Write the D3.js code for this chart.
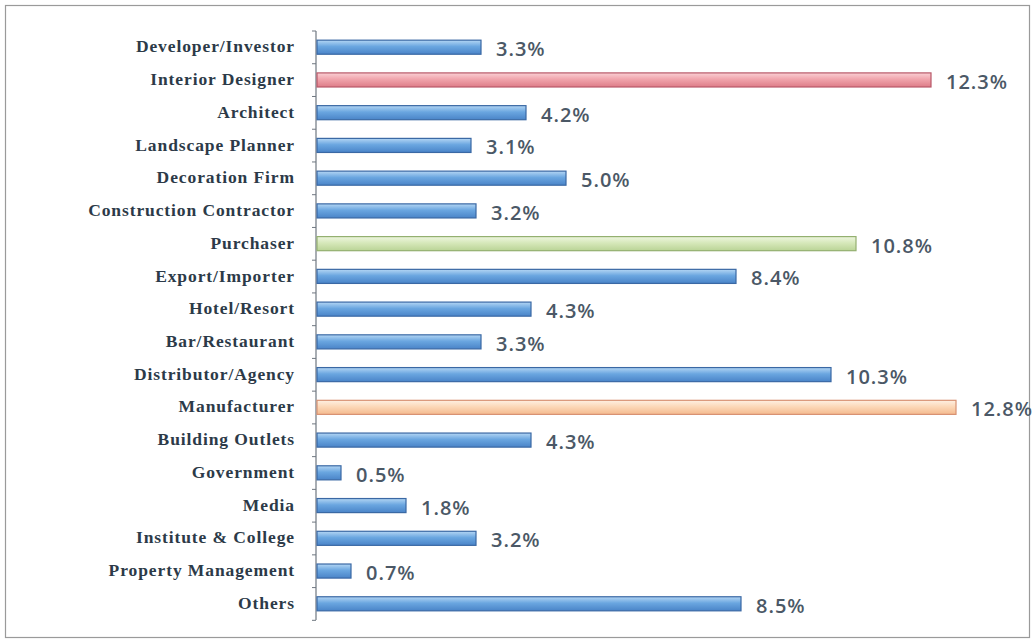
<!DOCTYPE html>
<html lang="en">
	<head>
		<meta charset="utf-8">
		<title>Visitors by Business</title>
		<script type="text/javascript" src="https://d3js.org/d3.v7.min.js"></script>
		<style type="text/css">
			body { margin: 0; background: #fff; }
		</style>
	</head>
	<body>
		<div id="chart"></div>
		<script type="text/javascript">

		// data
		var categories = ["Developer/Investor", "Interior Designer", "Architect", "Landscape Planner",
			"Decoration Firm", "Construction Contractor", "Purchaser", "Export/Importer", "Hotel/Resort",
			"Bar/Restaurant", "Distributor/Agency", "Manufacturer", "Building Outlets", "Government",
			"Media", "Institute & College", "Property Management", "Others"];
		var values = [3.3, 12.3, 4.2, 3.1, 5.0, 3.2, 10.8, 8.4, 4.3, 3.3, 10.3, 12.8, 4.3, 0.5, 1.8, 3.2, 0.7, 8.5];
		var highlights = { "Interior Designer": "red", "Purchaser": "green", "Manufacturer": "orange" };

		var w = 1034, h = 642;
		var plotLeft = 316, plotTop = 31, plotBottom = 620;

		// colour sets: top, middle, bottom, border
		var palette = {
			blue:   ["#b4d6f4", "#6aa6e0", "#4a84c8", "#3a68a4"],
			red:    ["#fad0d4", "#f0a4ac", "#de7c88", "#b85868"],
			green:  ["#eef6e0", "#d6e8ba", "#bad496", "#94b070"],
			orange: ["#fef0e2", "#fcd8b8", "#f4ba8e", "#d89272"]
		};

		var svg = d3.select("#chart").append("svg")
			.attr("width", w)
			.attr("height", h);

		// gradients for the bars
		var defs = svg.append("defs");
		Object.keys(palette).forEach(function(k) {
			var g = defs.append("linearGradient")
				.attr("id", "grad-" + k)
				.attr("x1", 0).attr("y1", 0).attr("x2", 0).attr("y2", 1);
			g.append("stop").attr("offset", "0%").attr("stop-color", palette[k][0]);
			g.append("stop").attr("offset", "45%").attr("stop-color", palette[k][1]);
			g.append("stop").attr("offset", "100%").attr("stop-color", palette[k][2]);
		});

		// outer frame
		svg.append("rect")
			.attr("x", 5.5).attr("y", 5.5)
			.attr("width", 1024).attr("height", 632)
			.attr("fill", "none")
			.attr("stroke", "#9a9a9a")
			.attr("stroke-width", 1.2);

		var x = d3.scaleLinear()
			.domain([0, 13.5])
			.range([plotLeft, plotLeft + 50 * 13.5]);

		var y = d3.scaleBand()
			.domain(categories)
			.range([plotTop, plotBottom])
			.paddingInner(0.57)
			.paddingOuter(0.28);

		// axis line with ticks between categories
		var axis = svg.append("g");
		axis.append("line")
			.attr("x1", plotLeft).attr("x2", plotLeft)
			.attr("y1", plotTop).attr("y2", plotBottom)
			.attr("stroke", "#6f7780").attr("stroke-width", 1.2);
		var step = y.step();
		var tickYs = d3.range(categories.length + 1).map(function(i) { return plotTop + i * step; });
		axis.selectAll(".tick")
			.data(tickYs)
			.enter().append("line")
			.attr("x1", plotLeft - 4).attr("x2", plotLeft)
			.attr("y1", function(d) { return d; })
			.attr("y2", function(d) { return d; })
			.attr("stroke", "#6f7780");

		// category labels
		svg.selectAll(".cat")
			.data(categories)
			.enter().append("text")
			.attr("x", plotLeft - 21)
			.attr("y", function(d) { return y(d) + y.bandwidth() / 2 - 1; })
			.attr("dy", "0.35em")
			.attr("text-anchor", "end")
			.style("font-family", "'Liberation Serif', 'DejaVu Serif', serif")
			.style("font-weight", "bold")
			.style("font-size", "17.5px")
			.style("letter-spacing", "0.9px")
			.style("fill", "#2c3a48")
			.text(function(d) { return d; });

		// bars
		svg.selectAll(".bar")
			.data(values)
			.enter().append("rect")
			.attr("x", x(0) + 1)
			.attr("y", function(d, i) { return y(categories[i]); })
			.attr("width", function(d) { return x(d) - x(0) - 1; })
			.attr("height", y.bandwidth())
			.attr("fill", function(d, i) { return "url(#grad-" + (highlights[categories[i]] || "blue") + ")"; })
			.attr("stroke", function(d, i) { return palette[highlights[categories[i]] || "blue"][3]; })
			.attr("stroke-width", 1.2);

		// value labels
		svg.selectAll(".val")
			.data(values)
			.enter().append("text")
			.attr("x", function(d) { return x(d) + 15; })
			.attr("y", function(d, i) { return y(categories[i]) + y.bandwidth() / 2 + 2; })
			.attr("dy", "0.35em")
			.style("font-family", "'Open Sans', 'Noto Sans', sans-serif")
			.style("font-weight", "600")
			.style("font-size", "20px")
			.style("letter-spacing", "1px")
			.style("fill", "#4b5866")
			.text(function(d) { return d.toFixed(1) + "%"; });

		</script>
	</body>
</html>
